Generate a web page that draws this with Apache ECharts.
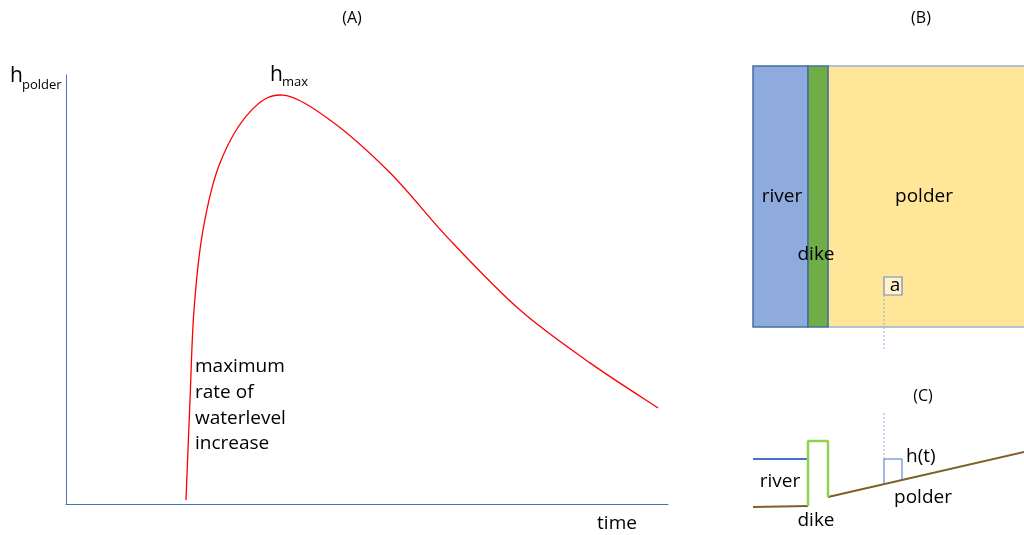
<!DOCTYPE html>
<html lang="en">
<head>
    <meta charset="UTF-8">
    <title>polder flooding</title>
    <script src="https://cdn.jsdelivr.net/npm/echarts/dist/echarts.min.js"></script>
    <style>
        body { margin: 0; padding: 0; background-color: #fff; }
        #chart { width: 1024px; height: 535px; }
    </style>
</head>
<body>

<div id="chart"></div>

<script>
// (A) water level in the polder over time (axis units 0..100)
const timeVals = [19.93, 20.60, 21.26, 22.76, 25.58, 30.56, 36.05,
                  43.85, 53.82, 63.79, 75.42, 87.04, 98.34];
const hPolder  = [0.9, 24.2, 45.2, 63.9, 79.5, 91.4, 95.3,
                  89.5, 77.2, 61.5, 45.2, 32.9, 22.4];

// (B) plan view: zones along the distance axis
const zones = ['river', 'dike', 'polder'];
const zoneEdges = [0, 55, 75, 275];
const stripRange = [29, 290];
const pointA = [131, 149, 61, 79];   // x0, x1, y0, y1 of the observation point

// (C) cross section (elevation)
const riverBed   = [[0, 13], [55, 14]];
const riverLevel = [[0, 61], [55, 61]];
const dikeProfile = [[55, 14], [55, 79], [75, 79], [75, 23]];
const polderGround = [[75, 23], [275, 68.9]];
const waterColumn = [[131, 36], [131, 61], [149, 61], [149, 40]];

const zoneColor = { river: '#8FAADC', dike: '#70AD47', polder: '#FFE699' };
const zoneStroke = { river: '#41719C', dike: '#41719C', polder: '#9FB3D3' };

const chart = echarts.init(document.getElementById('chart'));
const font = '"Open Sans", sans-serif';

function txt(x, y, text, size, align) {
    const a = align || 'left';
    return {
        type: 'text', x: x, y: y, z: 100,
        style: { text: text, font: size + 'px ' + font, fill: '#000',
                 textAlign: a, align: a, textVerticalAlign: 'middle', verticalAlign: 'middle' }
    };
}

// smooth curve through the points (catmull-rom -> bezier), in pixel space
function curvePath(api) {
    const pts = timeVals.map((t, i) => api.coord([t, hPolder[i]]));
    const n = pts.length;
    let d = 'M' + pts[0][0] + ' ' + pts[0][1];
    for (let i = 0; i < n - 1; i++) {
        const p0 = pts[Math.max(i - 1, 0)], p1 = pts[i], p2 = pts[i + 1], p3 = pts[Math.min(i + 2, n - 1)];
        const c1 = [p1[0] + (p2[0] - p0[0]) / 6, p1[1] + (p2[1] - p0[1]) / 6];
        const c2 = [p2[0] - (p3[0] - p1[0]) / 6, p2[1] - (p3[1] - p1[1]) / 6];
        d += ' C' + c1[0] + ' ' + c1[1] + ' ' + c2[0] + ' ' + c2[1] + ' ' + p2[0] + ' ' + p2[1];
    }
    return d;
}

const hidden = { show: false };
function axisHidden(i, min, max) {
    return { type: 'value', gridIndex: i, min: min, max: max, show: false };
}

chart.setOption({
    animation: false,
    grid: [
        { left: 66, top: 75, width: 602, height: 429 },
        { left: 753, top: 66, width: 271, height: 290 },
        { left: 753, top: 410, width: 271, height: 110 }
    ],
    xAxis: [
        { type: 'value', gridIndex: 0, min: 0, max: 100,
          axisLine: { show: true, lineStyle: { color: '#4472C4', width: 1 } },
          axisTick: hidden, axisLabel: hidden, splitLine: hidden },
        axisHidden(1, 0, 271),
        axisHidden(2, 0, 271)
    ],
    yAxis: [
        { type: 'value', gridIndex: 0, min: 0, max: 100,
          axisLine: { show: true, lineStyle: { color: '#4472C4', width: 1 } },
          axisTick: hidden, axisLabel: hidden, splitLine: hidden },
        axisHidden(1, 0, 290),
        axisHidden(2, 0, 110)
    ],
    series: [
        {
            type: 'custom', xAxisIndex: 0, yAxisIndex: 0,
            data: timeVals.map((t, i) => [t, hPolder[i]]),
            renderItem: function (params, api) {
                if (params.dataIndex !== 0) return;
                return {
                    type: 'path',
                    shape: { pathData: curvePath(api) },
                    style: { fill: 'none', stroke: '#FF0000', lineWidth: 1.3 }
                };
            }
        },
        {
            type: 'custom', xAxisIndex: 1, yAxisIndex: 1,
            data: zones.map((z, i) => [zoneEdges[i], zoneEdges[i + 1], i]),
            renderItem: function (params, api) {
                const p0 = api.coord([api.value(0), stripRange[1]]);
                const p1 = api.coord([api.value(1), stripRange[0]]);
                const z = zones[api.value(2)];
                return {
                    type: 'rect', z2: z === 'polder' ? 0 : 1,
                    shape: { x: p0[0], y: p0[1], width: p1[0] - p0[0], height: p1[1] - p0[1] },
                    style: { fill: zoneColor[z], stroke: zoneStroke[z], lineWidth: 1.5 }
                };
            }
        },
        {
            type: 'custom', xAxisIndex: 1, yAxisIndex: 1,
            data: [pointA],
            renderItem: function (params, api) {
                const p0 = api.coord([api.value(0), api.value(3)]);
                const p1 = api.coord([api.value(1), api.value(2)]);
                return {
                    type: 'rect', z2: 2,
                    shape: { x: p0[0], y: p0[1], width: p1[0] - p0[0], height: p1[1] - p0[1] },
                    style: { fill: '#FFF2CC', stroke: '#6C8EBF', lineWidth: 1.2 }
                };
            }
        },
        {
            type: 'line', xAxisIndex: 1, yAxisIndex: 1, z: 3,
            data: [[pointA[0], pointA[2]], [pointA[0], 6]], symbol: 'none',
            lineStyle: { color: '#8FAADC', width: 1, type: [2, 2] }
        },
        {
            type: 'line', xAxisIndex: 2, yAxisIndex: 2, data: riverLevel, symbol: 'none',
            lineStyle: { color: '#4472C4', width: 2 }
        },
        {
            type: 'line', xAxisIndex: 2, yAxisIndex: 2, data: riverBed, symbol: 'none',
            lineStyle: { color: '#7F6026', width: 2 }
        },
        {
            type: 'line', xAxisIndex: 2, yAxisIndex: 2, data: polderGround, symbol: 'none',
            lineStyle: { color: '#7F6026', width: 2 }
        },
        {
            type: 'line', xAxisIndex: 2, yAxisIndex: 2, data: dikeProfile, symbol: 'none',
            lineStyle: { color: '#92D050', width: 2.5 }
        },
        {
            type: 'line', xAxisIndex: 2, yAxisIndex: 2, data: waterColumn, symbol: 'none',
            lineStyle: { color: '#4472C4', width: 1 }
        },
        {
            type: 'line', xAxisIndex: 2, yAxisIndex: 2, symbol: 'none',
            data: [[waterColumn[1][0], waterColumn[1][1]], [waterColumn[1][0], 107]],
            lineStyle: { color: '#8FAADC', width: 1, type: [2, 2] }
        }
    ],
    graphic: [
        txt(352, 18, '(A)', 16, 'center'),
        txt(921, 18, '(B)', 16, 'center'),
        txt(923, 396, '(C)', 16, 'center'),
        txt(10, 76, 'h', 21),
        txt(22, 85, 'polder', 13),
        txt(270, 75, 'h', 21),
        txt(282, 82, 'max', 13),
        txt(617, 524, 'time', 19, 'center'),
        txt(195, 367, 'maximum', 19),
        txt(195, 393, 'rate of', 19),
        txt(195, 419, 'waterlevel', 19),
        txt(195, 444, 'increase', 19),
        txt(782, 197, 'river', 19, 'center'),
        txt(924, 197, 'polder', 19, 'center'),
        txt(816, 255, 'dike', 19, 'center'),
        txt(895, 286, 'a', 19, 'center'),
        txt(780, 482, 'river', 19, 'center'),
        txt(816, 521, 'dike', 19, 'center'),
        txt(923, 498, 'polder', 19, 'center'),
        txt(906, 457, 'h(t)', 19)
    ]
});
</script>

</body>
</html>
